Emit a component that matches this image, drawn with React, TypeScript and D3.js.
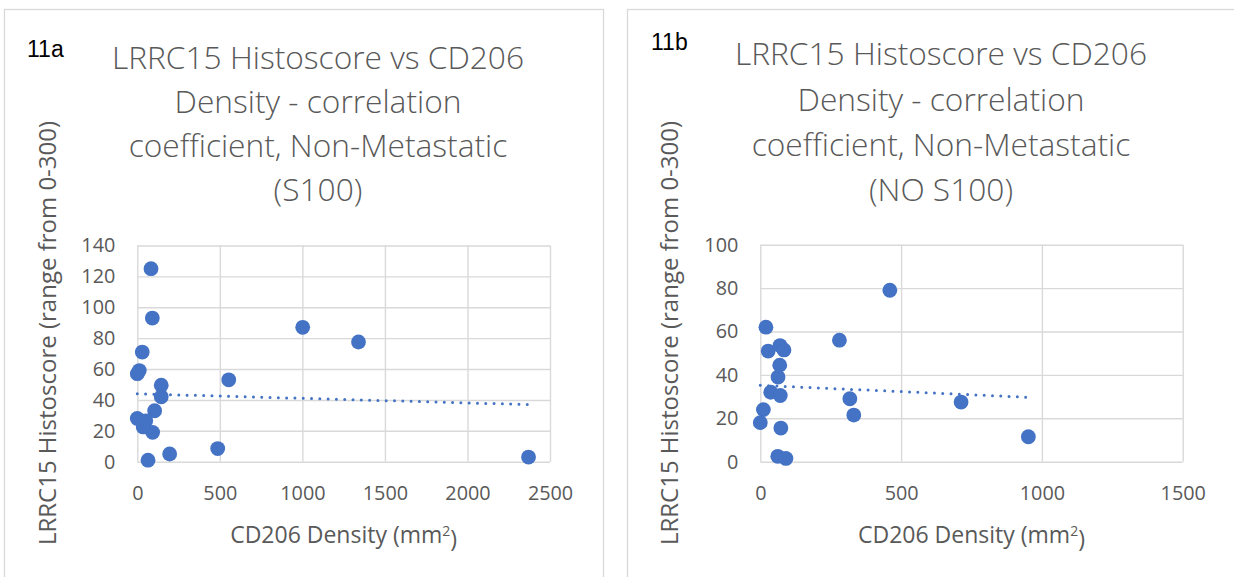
import React, { useEffect, useRef } from 'react';
import * as d3 from 'd3';

// 11a: with S100
const leftDensity = [83, 91, 30, 12, 0, 145, 145, 105, 0, 51, 36, 93, 65, 196, 487, 554, 1002, 1340, 2370];
const leftScore = [125, 93, 71, 59, 57, 49.5, 42, 33, 28, 26.5, 22.5, 19, 1, 5, 8.5, 53, 87, 77.5, 3];
const leftTrendX = [0, 2370];
const leftTrendY = [44, 37];
const leftXTicks = [0, 500, 1000, 1500, 2000, 2500];
const leftYTicks = [0, 20, 40, 60, 80, 100, 120, 140];

// 11b: no S100
const rightDensity = [20, 28, 70, 84, 69, 63, 37, 71, 11, 0, 73, 62, 91, 281, 460, 318, 332, 713, 952];
const rightScore = [62, 51, 53.5, 51.5, 44.5, 39, 32, 30.5, 24, 18, 15.5, 2.5, 1.5, 56, 79, 29, 21.5, 27.5, 11.5];
const rightTrendX = [0, 952];
const rightTrendY = [35.2, 29.7];
const rightXTicks = [0, 500, 1000, 1500];
const rightYTicks = [0, 20, 40, 60, 80, 100];

const titleLines = ['LRRC15 Histoscore vs CD206', 'Density - correlation', 'coefficient, Non-Metastatic'];
const yTitle = 'LRRC15 Histoscore (range from 0-300)';

const GRID = '#d9d9d9';
const TEXT = '#595959';
const DOT = '#4472c4';
const FONT = '"Open Sans", sans-serif';

type PanelOpts = {
    label: string;
    subtitle: string;
    xs: number[];
    ys: number[];
    trendX: number[];
    trendY: number[];
    xTicks: number[];
    yTicks: number[];
    box: { x: number; y: number; w: number; h: number };
    plot: { left: number; right: number; top: number; bottom: number };
    labelPos: [number, number];
    titleX: number;
    titleY: number[];
    yTitleX: number;
};

function drawPanel(root: d3.Selection<SVGSVGElement, unknown, null, undefined>, o: PanelOpts) {
    const g = root.append('g');

    g.append('rect')
        .attr('x', o.box.x).attr('y', o.box.y)
        .attr('width', o.box.w).attr('height', o.box.h)
        .attr('fill', '#fff').attr('stroke', GRID).attr('stroke-width', 1.3);

    const x = d3.scaleLinear()
        .domain([o.xTicks[0], o.xTicks[o.xTicks.length - 1]])
        .range([o.plot.left, o.plot.right]);
    const y = d3.scaleLinear()
        .domain([o.yTicks[0], o.yTicks[o.yTicks.length - 1]])
        .range([o.plot.bottom, o.plot.top]);

    const h = o.plot.bottom - o.plot.top;
    const w = o.plot.right - o.plot.left;

    const xAxis = d3.axisBottom(x).tickValues(o.xTicks).tickFormat(d3.format('d'))
        .tickSizeInner(-h).tickSizeOuter(0).tickPadding(24);
    const yAxis = d3.axisLeft(y).tickValues(o.yTicks).tickFormat(d3.format('d'))
        .tickSizeInner(-w).tickSizeOuter(0).tickPadding(22);

    const xg = g.append('g').attr('transform', `translate(0,${o.plot.bottom})`).call(xAxis);
    const yg = g.append('g').attr('transform', `translate(${o.plot.left},0)`).call(yAxis);

    [xg, yg].forEach(ax => {
        ax.select('.domain').remove();
        ax.selectAll('line').attr('stroke', GRID).attr('stroke-width', 1.4);
        ax.selectAll('text')
            .attr('fill', TEXT)
            .style('font-family', FONT)
            .style('font-size', '19.8px');
    });

    // titles
    const lines = [...titleLines, o.subtitle];
    g.append('text')
        .attr('text-anchor', 'middle')
        .attr('fill', TEXT)
        .style('font-family', FONT)
        .style('font-weight', 300)
        .style('font-size', '31.7px')
        .selectAll('tspan')
        .data(lines)
        .join('tspan')
        .attr('x', o.titleX)
        .attr('y', (_, i) => o.titleY[i])
        .attr('dy', '0.35em')
        .text(d => d);

    g.append('text')
        .attr('x', o.labelPos[0]).attr('y', o.labelPos[1])
        .attr('fill', '#000')
        .style('font-family', '"Liberation Sans", Arial, sans-serif')
        .style('font-size', '23px')
        .text(o.label);

    const xt = g.append('text')
        .attr('x', (o.plot.left + o.plot.right) / 2)
        .attr('y', o.plot.bottom + 73)
        .attr('dy', '0.35em')
        .attr('text-anchor', 'middle')
        .attr('fill', TEXT)
        .style('font-family', FONT)
        .style('font-size', '23px');
    xt.append('tspan').text('CD206 Density (mm');
    xt.append('tspan').attr('dy', '-0.45em').style('font-size', '14px').text('2');
    xt.append('tspan').attr('dy', '0.45em').text(')');

    g.append('text')
        .attr('transform', `translate(${o.yTitleX},333) rotate(-90)`)
        .attr('dy', '0.35em')
        .attr('text-anchor', 'middle')
        .attr('fill', TEXT)
        .style('font-family', FONT)
        .style('font-size', '24px')
        .text(yTitle);

    // trendline
    g.append('line')
        .attr('x1', x(o.trendX[0])).attr('y1', y(o.trendY[0]))
        .attr('x2', x(o.trendX[1])).attr('y2', y(o.trendY[1]))
        .attr('stroke', DOT)
        .attr('stroke-width', 3)
        .attr('stroke-linecap', 'round')
        .attr('stroke-dasharray', '0 8.3');

    g.append('g')
        .selectAll('circle')
        .data(o.xs.map((v, i) => [v, o.ys[i]]))
        .join('circle')
        .attr('cx', d => x(d[0]))
        .attr('cy', d => y(d[1]))
        .attr('r', 7.4)
        .attr('fill', DOT);
}

export default function App() {
    const svgRef = useRef<SVGSVGElement>(null);

    useEffect(() => {
        const svg = d3.select(svgRef.current!);
        svg.selectAll('*').remove();

        drawPanel(svg, {
            label: '11a',
            subtitle: '(S100)',
            xs: leftDensity, ys: leftScore,
            trendX: leftTrendX, trendY: leftTrendY,
            xTicks: leftXTicks, yTicks: leftYTicks,
            box: { x: 4.5, y: 9.5, w: 599, h: 620 },
            plot: { left: 137.3, right: 550, top: 245.5, bottom: 461.7 },
            labelPos: [27, 57],
            titleX: 318,
            titleY: [58, 102, 146, 190],
            yTitleX: 48,
        });

        drawPanel(svg, {
            label: '11b',
            subtitle: '(NO S100)',
            xs: rightDensity, ys: rightScore,
            trendX: rightTrendX, trendY: rightTrendY,
            xTicks: rightXTicks, yTicks: rightYTicks,
            box: { x: 627.5, y: 9.5, w: 700, h: 620 },
            plot: { left: 760.3, right: 1182.7, top: 244.7, bottom: 461.7 },
            labelPos: [651, 50],
            titleX: 941,
            titleY: [54, 100, 145, 190],
            yTitleX: 670,
        });
    }, []);

    return (
        <svg
            ref={svgRef}
            width={1234}
            height={577}
            style={{ position: 'absolute', left: 0, top: 0, background: '#fff' }}
        />
    );
}
